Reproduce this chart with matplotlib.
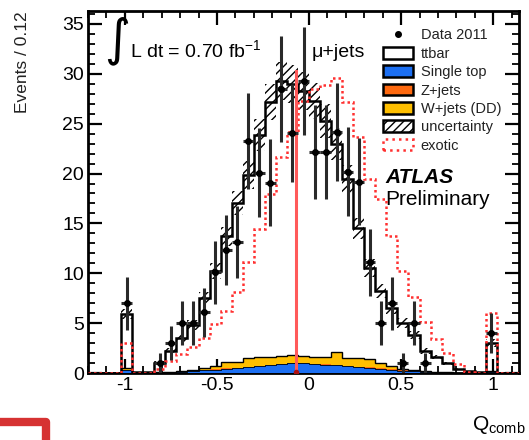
import numpy as np
import matplotlib
matplotlib.use('Agg')
import matplotlib.pyplot as plt
from matplotlib.patches import Patch
from matplotlib.lines import Line2D
from matplotlib.ticker import MultipleLocator, FuncFormatter

plt.rcParams['font.family'] = ['Liberation Sans', 'DejaVu Sans']
plt.rcParams['mathtext.fontset'] = 'custom'
plt.rcParams['mathtext.rm'] = 'Liberation Sans'
plt.rcParams['mathtext.it'] = 'Liberation Sans:italic'
plt.rcParams['mathtext.bf'] = 'Liberation Sans:bold'
plt.rcParams['axes.unicode_minus'] = False
plt.rcParams['hatch.linewidth'] = 1.0

# ---- data (39 bins of width 0.06 from -1.2) ----
bin_lo, bin_hi, bin_w = -1.2, 1.14, 0.06
nan = np.nan
data = [nan, nan, nan, 7.0, nan, nan, 1.0, 3.0, 5.0, 5.0, 6.1, 10.1, 12.3, 13.1,
        23.3, 20.1, 19.1, 28.5, 24.1, 29.3, 22.2, 22.2, 24.2, 20.2, 19.2, 11.1,
        5.0, 7.0, 1.0, 5.0, 1.0, nan, nan, nan, nan, nan, 4.0, nan, nan]
single_top = [0, 0, 0, 0.3, 0, 0.05, 0.1, 0.1, 0.15, 0.2, 0.3, 0.35, 0.45, 0.5,
              0.6, 0.7, 0.8, 0.9, 1.0, 1.0, 0.9, 0.85, 0.8, 0.7, 0.6, 0.55, 0.45,
              0.35, 0.25, 0.2, 0.12, 0.08, 0.05, 0.03, 0.02, 0.02, 0.15, 0, 0]
zjets = [0, 0, 0, 0.05, 0, 0, 0, 0, 0, 0.04, 0.04, 0.04, 0.04, 0.04, 0.04, 0.04,
         0.04, 0.04, 0.04, 0.04, 0.04, 0.04, 0.04, 0.04, 0.04, 0.04, 0.04, 0.04,
         0.04, 0.04, 0, 0, 0, 0, 0, 0, 0, 0, 0]
wjets = [0, 0, 0, 0.2, 0, 0, 0.02, 0.03, 0.05, 0.1, 0.15, 0.3, 0.6, 0.55, 0.85,
         0.85, 0.8, 0.75, 0.75, 0.7, 0.7, 0.7, 1.25, 0.75, 0.85, 0.8, 0.55, 0.3,
         0.15, 0.1, 0.05, 0.03, 0.02, 0.02, 0.02, 0.02, 0.1, 0, 0]
ttbar = [0, 0, 0, 5.35, 0.1, 0.05, 0.88, 2.07, 3.3, 4.46, 7.0, 9.5, 12.6, 16.0,
         18.4, 22.3, 25.5, 27.6, 27.2, 26.5, 25.6, 23.7, 20.9, 18.0, 13.0, 9.1,
         7.2, 5.8, 4.6, 3.5, 2.0, 1.5, 0.93, 0.35, 0.16, 0.06, 2.75, 0, 0]
uncert = [0, 0, 0, 0.5, 0, 0, 0.2, 0.3, 0.4, 0.5, 0.6, 0.8, 1.0, 1.2, 1.4, 1.6,
          1.8, 1.9, 1.9, 1.9, 1.8, 1.7, 1.6, 1.4, 1.1, 0.9, 0.7, 0.6, 0.5, 0.4,
          0.3, 0.2, 0.15, 0.1, 0.05, 0, 0.4, 0, 0]
exotic = [0, 0, 0, 3.0, 0, 0, 0.4, 1.2, 1.9, 2.6, 3.5, 4.9, 6.2, 8.1, 11.1, 14.4,
          17.9, 21.7, 24.2, 27.3, 28.5, 28.9, 29.6, 27.2, 23.7, 19.5, 17.4, 13.7,
          10.2, 7.6, 5.1, 3.4, 2.0, 0.9, 0.1, 0, 6.0, 0, 0]
cut_value = -0.07
cut_height = 30.3

c_blue = '#1c6ff2'
c_orange = '#ff6a10'
c_yellow = '#ffbf00'
c_red = '#ff3030'

edges = np.linspace(bin_lo, bin_hi, len(ttbar) + 1)
centers = 0.5 * (edges[:-1] + edges[1:])

st = np.array(single_top)
zj = np.array(zjets)
wj = np.array(wjets)
tt = np.array(ttbar)
l1 = st
l2 = l1 + zj
l3 = l2 + wj
l4 = l3 + tt
unc = np.array(uncert)
d = np.array(data)

fig = plt.figure(figsize=(5.29, 4.40), dpi=100)
ax = fig.add_axes([88 / 529, 67 / 440, 431 / 529, 362 / 440])

# stacked MC
ax.stairs(l4, edges, baseline=0, fill=True, facecolor='white', edgecolor='none', zorder=1)
ax.stairs(l3, edges, baseline=0, fill=True, facecolor=c_yellow, edgecolor='none', zorder=2)
ax.stairs(l2, edges, baseline=0, fill=True, facecolor=c_orange, edgecolor='none', zorder=3)
ax.stairs(l1, edges, baseline=0, fill=True, facecolor=c_blue, edgecolor='none', zorder=4)
ax.stairs(l3, edges, baseline=None, color='black', lw=1.0, zorder=5)
ax.stairs(l1, edges, baseline=None, color='black', lw=0.6, zorder=5)
ax.stairs(l4, edges, baseline=None, color='black', lw=1.8, zorder=6)
# uncertainty band
ax.stairs(l4 + unc, edges, baseline=l4 - unc, fill=True, facecolor='none',
          edgecolor='black', hatch='////', lw=0, zorder=7)
# exotic
ax.stairs(exotic, edges, baseline=None, color=c_red, lw=1.8, ls=(0, (1, 1.2)), zorder=8)
# cut line
ax.plot([cut_value, cut_value], [0, cut_height], color='#ff5a5a', lw=2.2, zorder=9)
ax.plot([cut_value], [0.1], marker='o', ms=3, color='#b01010', zorder=9)
# data
m = ~np.isnan(d)
ax.errorbar(centers[m], d[m], yerr=np.sqrt(d[m]), xerr=bin_w / 2, fmt='o', color='black',
            ms=4, ecolor='#2a2a2a', elinewidth=2.2, capsize=0, zorder=10)

ax.set_xlim(bin_lo, bin_hi)
ax.set_ylim(0, 36.3)
ax.xaxis.set_major_locator(MultipleLocator(0.5))
ax.xaxis.set_minor_locator(MultipleLocator(0.1))
ax.yaxis.set_major_locator(MultipleLocator(5))
ax.yaxis.set_minor_locator(MultipleLocator(1))
ax.xaxis.set_major_formatter(FuncFormatter(lambda v, p: '%g' % v))
ax.tick_params(which='both', direction='in', top=True, right=True, labelsize=14, pad=3)
ax.tick_params(which='major', length=10, width=1.6)
ax.tick_params(which='minor', length=5, width=1.3)
for s in ax.spines.values():
    s.set_linewidth(2.0)

ax.set_ylabel('Events / 0.12', fontsize=12.5, loc='top', color='#222222')
ax.yaxis.set_label_coords(-0.135, 1.0)
ax.text(1.015, -0.145, r'Q$_{\rm comb}$', ha='right', va='center', transform=ax.transAxes,
        fontsize=15)

ax.text(0.038, 0.918, '\u222b', transform=ax.transAxes, fontsize=36, ha='left', va='center',
        family=['DejaVu Sans'])
ax.text(0.0975, 0.873, r'L dt = 0.70 fb$^{-1}$', transform=ax.transAxes, fontsize=14,
        ha='left', va='baseline')
ax.text(0.52, 0.873, '\u03bc+jets', transform=ax.transAxes, fontsize=14, ha='left',
        va='baseline')
ax.text(0.689, 0.539, 'ATLAS', transform=ax.transAxes, fontsize=15, ha='left', va='center',
        fontweight='bold', fontstyle='italic')
ax.text(0.689, 0.478, 'Preliminary', transform=ax.transAxes, fontsize=15, ha='left',
        va='center')

handles = [
    Line2D([], [], marker='o', ls='none', color='black', ms=4),
    Patch(facecolor='white', edgecolor='black', lw=1.8),
    Patch(facecolor=c_blue, edgecolor='black', lw=1.8),
    Patch(facecolor=c_orange, edgecolor='black', lw=1.8),
    Patch(facecolor=c_yellow, edgecolor='black', lw=1.8),
    Patch(facecolor='white', edgecolor='black', hatch='////', lw=1.8),
    Patch(facecolor='white', edgecolor=c_red, lw=1.8, ls=':'),
]
labels = ['Data 2011', 'ttbar', 'Single top', 'Z+jets', 'W+jets (DD)', 'uncertainty', 'exotic']
leg = ax.legend(handles, labels, loc='upper left', bbox_to_anchor=(0.66, 0.98),
                frameon=False, fontsize=10.5, handlelength=2.1, handleheight=0.85,
                handletextpad=0.5, labelspacing=0.3, borderpad=0.2)
for t in leg.get_texts():
    t.set_color('#222222')

# red corner artifact at bottom-left of the page
fig.add_artist(Line2D([0, 46 / 529, 46 / 529], [1 - 422 / 440, 1 - 422 / 440, 0],
                      transform=fig.transFigure, color='#d63232', lw=6,
                      solid_joinstyle='round'))

fig.savefig('out.png', dpi=100)
